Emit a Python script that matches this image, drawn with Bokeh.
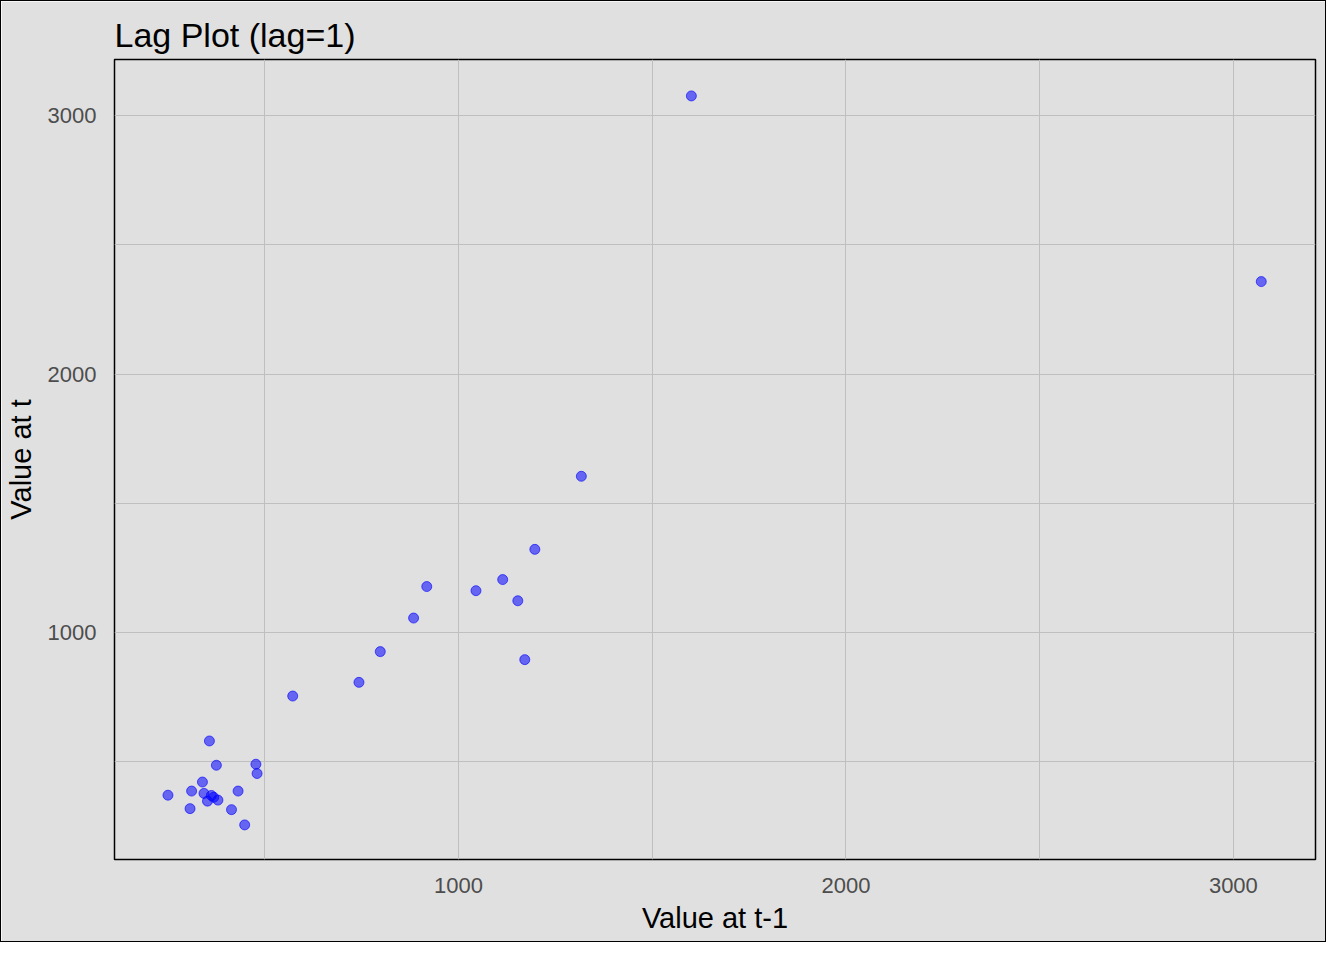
from bokeh.plotting import figure
from bokeh.models import Range1d, FixedTicker
from bokeh.embed import file_html
from bokeh.resources import INLINE

# values: x = value at t-1, y = value at t
value_prev = [357, 375, 477, 480, 339, 311, 431, 250, 343, 362, 368, 352, 379, 307, 414,
              448, 918, 884, 798, 743, 572, 1045, 1114, 1153, 1171, 1197, 1317, 1601, 3072]
value_curr = [579, 485, 489, 453, 420, 385, 385, 369, 376, 368, 361, 346, 350, 317, 313,
              254, 1177, 1055, 925, 806, 753, 1161, 1204, 1122, 894, 1321, 1604, 3077, 2358]

major_ticks = [1000, 2000, 3000]
minor_ticks = [500, 1500, 2500]

BG = "#e0e0e0"
FONT = "Liberation Sans"

p = figure(width=1326, height=942, output_backend="svg", toolbar_location=None,
           x_range=Range1d(112, 3212), y_range=Range1d(120, 3218),
           title="Lag Plot (lag=1)",
           min_border_left=112, min_border_right=12, min_border_top=58, min_border_bottom=84)

p.background_fill_color = BG
p.border_fill_color = BG
p.outline_line_color = "black"
p.outline_line_width = 1.5
p.styles = {"border": "1px solid black"}

p.title.text_font = FONT
p.title.text_font_size = "34px"
p.title.text_font_style = "normal"
p.title.text_color = "black"
p.title.standoff = 12

p.scatter(value_prev, value_curr, size=10, fill_color="blue", fill_alpha=0.55,
          line_color="blue", line_alpha=0.6)

for ax in (p.xaxis, p.yaxis):
    ax.ticker = FixedTicker(ticks=major_ticks, minor_ticks=minor_ticks)
    ax.major_label_text_font = FONT
    ax.major_label_text_font_size = "22px"
    ax.major_label_text_color = "#4d4d4d"
    ax.axis_label_text_font = FONT
    ax.axis_label_text_font_size = "29px"
    ax.axis_label_text_font_style = "normal"
    ax.axis_label_text_color = "black"
    ax.axis_line_color = None
    ax.major_tick_line_color = None
    ax.minor_tick_line_color = None
    ax.major_label_standoff = 12

p.xaxis.axis_label = "Value at t-1"
p.yaxis.axis_label = "Value at t"
p.xaxis.axis_label_standoff = 6
p.yaxis.axis_label_standoff = 8

for g in (p.xgrid, p.ygrid):
    g.grid_line_color = "#bfbfbf"
    g.grid_line_width = 1
    g.minor_grid_line_color = "#bfbfbf"
    g.minor_grid_line_width = 1

open("out.html", "w").write(file_html(p, INLINE))
